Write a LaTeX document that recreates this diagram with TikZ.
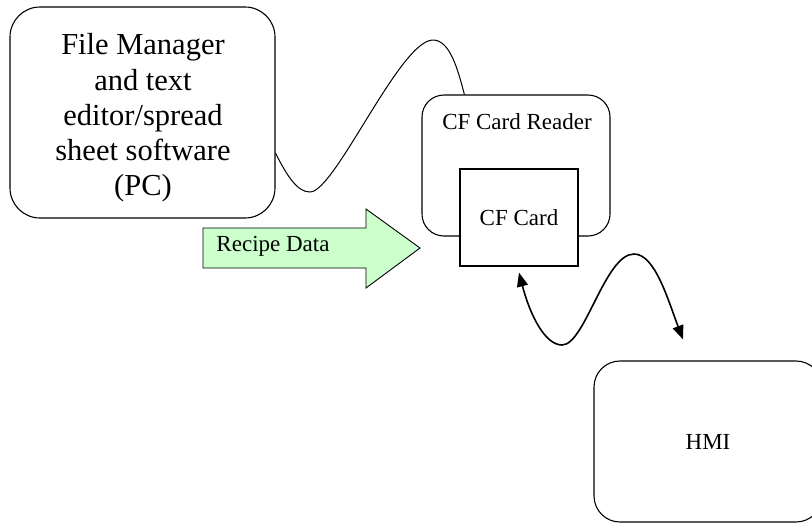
\documentclass[tikz,border=0pt]{standalone}
\usepackage{fontspec}
\setmainfont{Liberation Serif}
\usetikzlibrary{arrows.meta}

\definecolor{recipegreen}{RGB}{204,255,204}

\begin{document}
\begin{tikzpicture}[x=1pt,y=-1pt,
    box/.style={draw,line width=1.1pt,rounded corners=#1,inner sep=0pt},
    cardbox/.style={draw,fill=white,line width=1.1pt,inner sep=0pt,
      minimum width=118pt,minimum height=97pt,font=\fontsize{23}{26}\selectfont},
    txt/.style={font=\fontsize{23}{26}\selectfont,inner sep=0pt},
    cable/.style={line width=1pt},
    link/.style={line width=1.6pt,{Triangle[length=14pt,width=11pt]}-{Triangle[length=14pt,width=11pt]}}]
        \useasboundingbox (0,0) rectangle (812,523);
        % boxes
        \node[box=30pt,minimum width=265pt,minimum height=211pt] (pc) at (142.5,112.5) {};
        \node[font=\fontsize{30.5}{35.2}\selectfont,align=center,inner sep=0pt] (pctxt) at (143,118)
          {File Manager\\and text\\editor/spread\\sheet software\\(PC)};
        \node[box=22pt,minimum width=188pt,minimum height=141pt] (reader) at (516,165.5) {};
        \node[txt] (readertxt) at (517,122) {CF Card Reader};
        \node[cardbox] (card) at (519,217.5) {CF Card};
        \node[box=26pt,minimum width=228pt,minimum height=161pt,txt] (hmi) at (708,441.5) {HMI};

        % recipe data arrow
        \draw[fill=recipegreen,line width=0.9pt] (203,228) -- (366,228) -- (366,209) -- (420,248)
          -- (366,288) -- (366,268) -- (203,268) -- cycle;
        \node[txt] (recipe) at (273,246) {Recipe Data};

        % cable PC -> reader
        \draw[cable] (pc.-17) .. controls (288,178) and (298,192) .. (310,192)
          .. controls (335,192) and (400,40) .. (433,40)
          .. controls (450,40) and (458,70) .. (reader.126);

        % card <-> HMI
        \coordinate (cardend) at ([yshift=-6pt]card.south);
        \coordinate (hmiend) at ([xshift=-25pt,yshift=21pt]hmi.north);
        \draw[link] (cardend) .. controls (530,315) and (545,345) .. (562,345)
          .. controls (585,345) and (605,254) .. (634,254)
          .. controls (655,254) and (668,300) .. (hmiend);
      \end{tikzpicture}
\end{document}
